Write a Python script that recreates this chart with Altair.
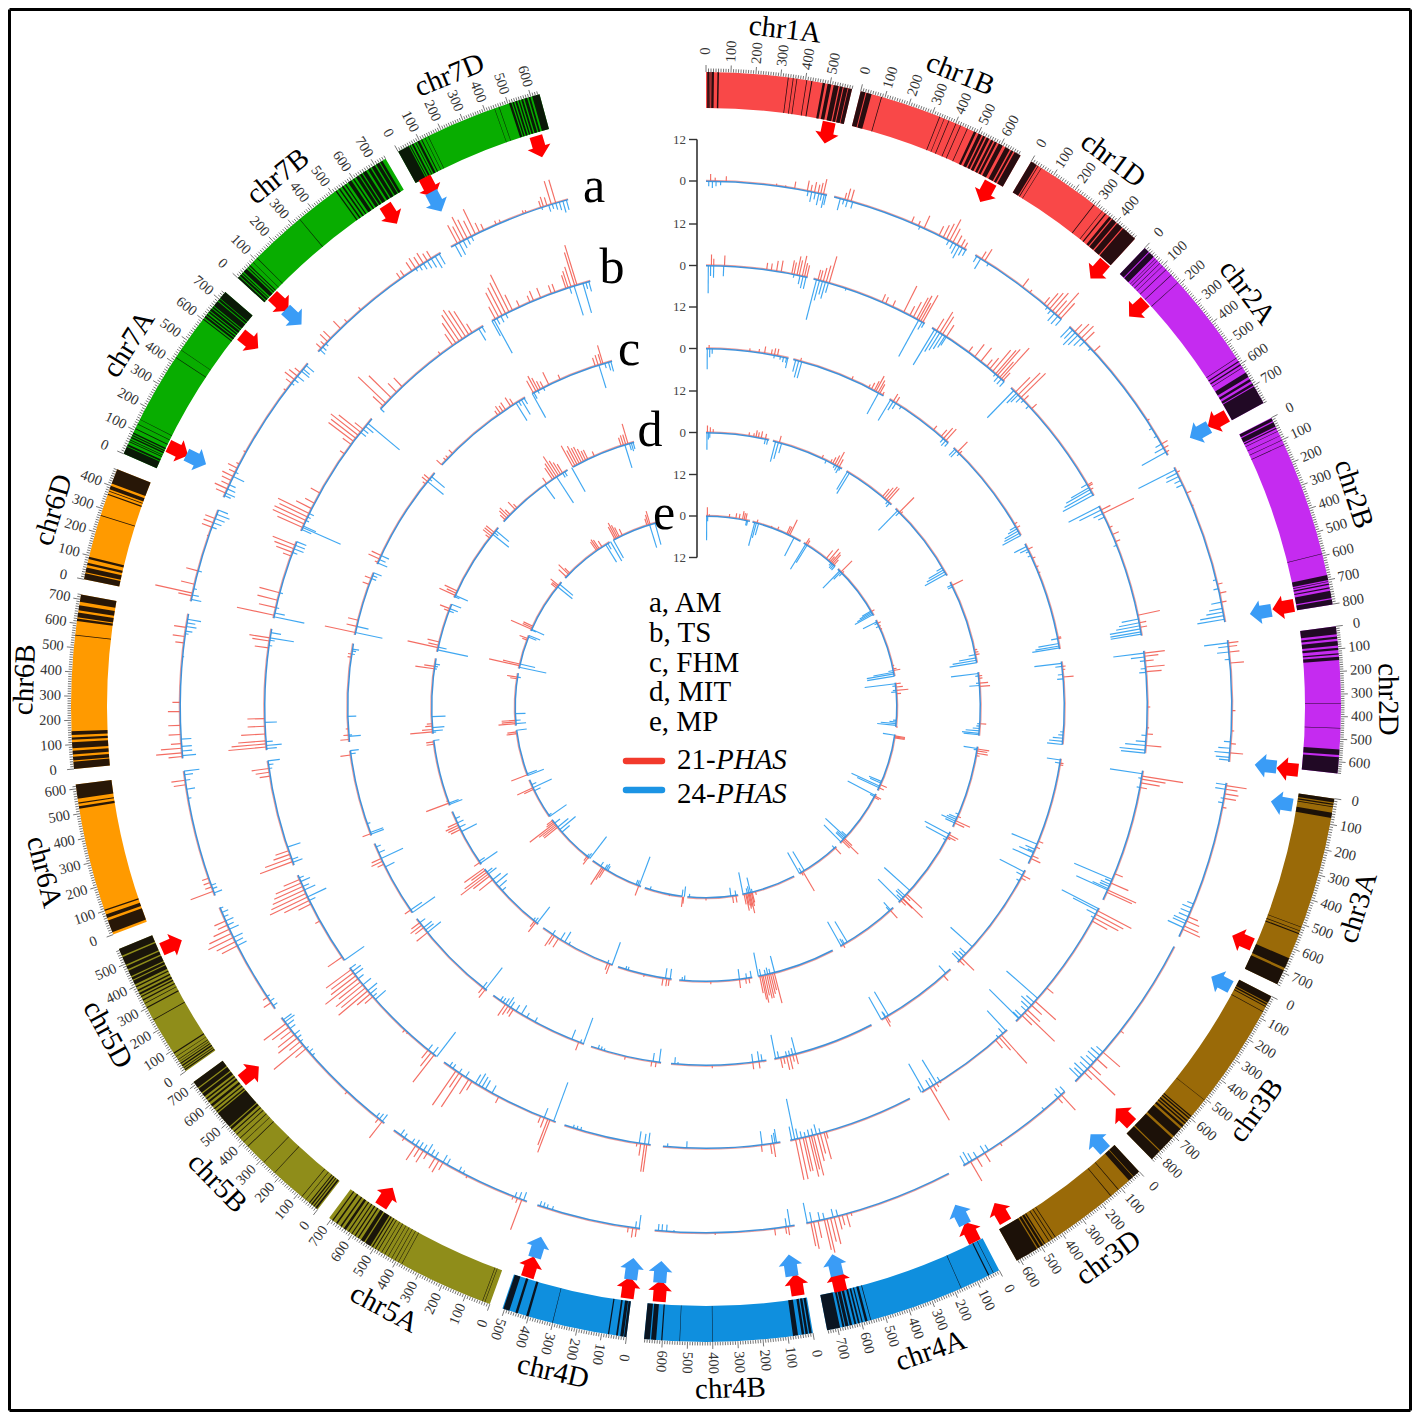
import math
import altair as alt
import pandas as pd

FONT = "Liberation Serif"
CX_PAGE, CY_PAGE = 706, 707
PAGE_W = 1404

# name, first clock angle (deg), last clock angle (deg), length in Mb, colour
CHROMS = [
    ("chr1A", 0.0, 13.3, 590, "#f94848"), ("chr1B", 14.1, 29.7, 689, "#f94848"), ("chr1D", 30.8, 42.5, 495, "#f94848"),
    ("chr2A", 43.7, 61.4, 780, "#c52bf0"), ("chr2B", 62.9, 80.7, 801, "#c52bf0"), ("chr2D", 82.7, 96.0, 651, "#c52bf0"),
    ("chr3A", 98.3, 115.9, 750, "#9a6a08"), ("chr3B", 117.1, 135.4, 830, "#9a6a08"), ("chr3D", 137.0, 150.7, 615, "#9a6a08"),
    ("chr4A", 152.5, 169.0, 744, "#0f8fde"), ("chr4B", 170.3, 185.6, 673, "#0f8fde"), ("chr4D", 187.2, 198.7, 509, "#0f8fde"),
    ("chr5A", 199.9, 216.4, 709, "#8f8d1a"), ("chr5B", 217.7, 233.8, 713, "#8f8d1a"), ("chr5D", 235.0, 247.6, 566, "#8f8d1a"),
    ("chr6A", 249.0, 263.0, 618, "#ff9a00"), ("chr6B", 264.4, 280.2, 720, "#ff9a00"), ("chr6D", 281.6, 292.0, 473, "#ff9a00"),
    ("chr7A", 293.5, 310.8, 736, "#08ad00"), ("chr7B", 312.5, 329.7, 750, "#08ad00"), ("chr7D", 331.0, 344.8, 638, "#08ad00"),
]

# dark gene-density bands (start Mb, end Mb)
BANDS = {
    "chr1A": [(5,12),(14,18),(22,32),(46,52),(329,332),(349,352),(364,367),(404,407),(424,428),(470,480),(490,505),(515,535),(540,552),(556,572),(575,590)],
    "chr1B": [(0,20),(24,45),(85,88),(330,333),(350,352),(370,373),(400,403),(420,423),(450,453),(480,490),(500,514),(520,530),(536,548),(556,566),(572,582),(590,608),(620,640),(646,656),(662,689)],
    "chr1D": [(0,25),(30,33),(45,47),(290,293),(330,332),(345,350),(365,375),(380,400),(405,430),(435,495)],
    "chr2A": [(0,22),(26,50),(60,62),(70,72),(85,87),(100,102),(120,122),(150,152),(190,192),(570,572),(585,590),(600,605),(615,617),(640,660),(670,680),(690,700),(704,780)],
    "chr2B": [(2,15),(20,40),(45,50),(60,62),(80,82),(100,102),(120,122),(590,592),(680,700),(705,708),(715,720),(730,735),(745,775),(780,801)],
    "chr2D": [(0,35),(45,55),(65,85),(95,105),(120,125),(135,150),(340,342),(450,452),(545,570),(580,651)],
    "chr3A": [(0,15),(20,25),(30,33),(55,75),(510,512),(525,528),(536,540),(640,680),(690,750)],
    "chr3B": [(0,30),(34,40),(46,50),(70,73),(505,507),(590,595),(600,606),(614,620),(626,632),(640,650),(660,700),(710,780),(785,830)],
    "chr3D": [(0,30),(33,55),(110,113),(150,153),(430,433),(445,448),(460,463),(480,485),(490,500),(505,515),(520,615)],
    "chr4A": [(25,27),(45,50),(170,172),(560,563),(575,585),(595,600),(608,615),(622,630),(640,650),(655,668),(672,680),(690,744)],
    "chr4B": [(5,15),(20,30),(35,45),(60,80),(400,402),(530,532),(600,605),(625,645),(650,673)],
    "chr4D": [(0,10),(12,25),(35,42),(70,75),(300,302),(400,410),(445,455),(480,505)],
    "chr5A": [(20,22),(30,32),(375,377),(390,392),(405,407),(420,422),(435,437),(450,453),(465,467),(480,483),(492,496),(505,510),(516,540),(545,560),(570,575),(585,590),(600,604),(615,620),(630,640),(650,656),(670,676),(690,695)],
    "chr5B": [(5,12),(18,22),(28,34),(40,44),(60,62),(80,82),(225,227),(285,287),(375,378),(400,402),(420,423),(440,443),(455,460),(470,480),(485,555),(560,566),(575,580),(590,600),(610,618),(626,632),(640,655),(660,680),(685,713)],
    "chr5D": [(5,10),(15,18),(24,30),(36,40),(46,48),(55,58),(70,72),(85,90),(245,248),(300,305),(320,323),(335,340),(350,355),(362,370),(378,384),(395,400),(408,425),(430,440),(445,470),(476,490),(496,530),(536,566)],
    "chr6A": [(10,60),(70,85),(100,105),(520,530),(540,545),(560,618)],
    "chr6B": [(0,30),(35,50),(60,75),(85,110),(120,130),(140,155),(550,553),(610,620),(625,645),(655,675),(690,720)],
    "chr6D": [(0,25),(30,50),(60,70),(85,95),(270,273),(360,365),(375,378),(385,400),(410,473)],
    "chr7A": [(0,30),(33,40),(50,53),(57,60),(66,72),(76,80),(85,90),(105,108),(125,127),(145,147),(420,422),(455,457),(600,604),(610,618),(622,628),(634,640),(644,654),(658,664),(668,690),(694,702),(705,736)],
    "chr7B": [(0,8),(12,20),(24,28),(34,50),(56,60),(66,70),(85,87),(108,110),(335,337),(515,520),(530,536),(545,552),(560,565),(575,590),(598,604),(612,625),(630,640),(645,660),(668,680),(686,700),(706,720),(724,735)],
    "chr7D": [(0,50),(54,58),(64,72),(80,84),(90,100),(108,112),(125,127),(140,142),(440,442),(460,462),(505,515),(520,526),(532,540),(546,552),(558,566),(572,584),(590,598),(606,638)],
}

RING_RADII = {"a": 526, "b": 441.5, "c": 358.5, "d": 274.5, "e": 191}
UNIT_PX = 41.5 / 12

RED_A = [(.5,2),(1,1),(2.2,1.5),(7.7,.6),(8.7,.5),(9.7,2),(11.1,3),(11.5,2),(11.9,3),(12.3,2.5),(12.6,3.2),(12.9,4.5),(15.3,2),(15.6,3.5),(16,3.5),(23,2),(23.8,1.5),(24.5,4),(26.3,3),(26.8,4),(27.2,5),(27.6,7),(28,4.5),(28.5,3),(29,2.5),(29.4,2),(31.6,2.5),(32,4),(37,3),(38,1),(40,2.5),(40.4,5),(40.8,6),(41.2,7),(41.6,5),(42,9),(42.4,6),(44.5,3),(45,4.5),(45.5,5),(46,4),(47.5,2.5),(57,.8),(60,2),(60.5,1.5),(61,1),(63.5,1),(66,1.5),(67.5,.5),(76.5,1.5),(77.5,2),(78.5,1.5),(83,3),(83.4,2.5),(84,3),(85.2,4),(90.4,1),(92.6,.8),(94,1.5),(95,3.8),(98.6,6),(99,3.5),(99.5,4),(100,3.5),(101,1.2),(113.5,3),(114,4),(114.6,4.5),(115,5.5),(128,1.2),(131,6.5),(132,4),(133,4),(133.5,11),(134,3),(137.5,6),(138,2),(146,1),(148,3),(149,3),(149.8,6.5),(164,1),(164.5,4),(165,3),(165.4,4),(165.9,8),(166.3,7),(166.7,10),(167,9),(167.7,5),(168.2,8),(168.5,7),(171,2.5),(171.3,2),(172.5,2),(179,.6),(187.6,2.5),(188,2.8),(188.5,1.5),(200.5,9.3),(201,1.5),(201.5,1),(207,.8),(210,2.5),(210.5,4),(211,3.5),(212,2),(212.5,4),(213,3),(213.5,5),(215,1),(218,6),(218.5,1.5),(223,1),(229.5,4),(230,11),(230.5,4),(231,7),(231.5,6),(232,4),(232.5,6),(233,8),(235.8,2.5),(236.5,1.5),(243,5),(243.5,6),(244,8),(244.5,7),(245,5),(245.5,3),(246,3.5),(249.5,7),(250,2),(250.5,2),(251,2),(261.5,3.5),(262,4),(264.6,4),(265,7.5),(265.5,6),(266,3),(267,3.5),(268,3.5),(269.5,3.5),(270.5,2.2),(277,2.5),(277.7,3.5),(278.7,3.5),(282.5,11),(282.2,4),(283.5,4),(285,3.5),(289,.5),(290,3),(290.5,3),(291,3),(294,3),(294.5,4),(295,2.5),(295.5,3),(296,3.5),(296.5,2),(297,3),(297.5,1),(299,.8),(307,.8),(308,2),(308.5,3.5),(309,3),(309.5,2),(313,2),(313.5,1.5),(314,3),(314.5,3),(316,3),(317,1.2),(319,1),(324.5,2),(325,2),(326,3),(326.5,3.5),(327,3),(327.5,3.5),(328,2.5),(328.5,2.5),(331.8,6),(332.2,5),(332.6,7.5),(333,6),(333.5,5),(334,8),(334.5,3),(335,2),(336.5,1.2),(337,1),(339.7,1),(340,.8),(341.7,2),(342,3),(342.4,2.5),(342.9,7),(343.4,7)]
BLUE_A = [(.3,1.5),(.7,2),(1.1,1.5),(1.6,1.2),(11.2,1.5),(11.6,3),(12,2),(12.4,3.5),(12.7,2),(13,4),(13.2,3),(14.8,3.5),(15.2,1.5),(15.6,2),(16.2,2),(24,1),(27.5,1.5),(28,2),(28.4,3),(28.8,4),(29.2,2.5),(29.6,2),(31,2),(31.5,3.5),(32.5,1),(40.5,1),(41,1.5),(41.5,3),(42,3),(42.5,2.5),(43.8,4),(44.2,3.5),(44.6,5),(45,4),(45.5,3),(46,2),(47,1),(58,1),(59,1),(60,2),(60.5,3),(61,8),(63.2,12),(63.6,3.5),(64,4),(64.5,2),(65,2),(76,1),(77,1.5),(78.5,3),(79.2,4),(79.6,5),(80,7),(80.4,8),(83,7),(83.4,3),(84,3.5),(84.8,1.5),(93.8,2),(94.5,3.5),(95,4.5),(95.5,4),(95.8,3),(98.5,3),(99,3),(100,1),(100.5,1.5),(112,2),(112.5,3),(113,3),(113.5,3),(114,4),(114.3,4),(114.8,5),(131,2.5),(131.5,3.5),(132,3.5),(132.5,3),(133,4),(133.5,3),(134,4),(134.4,3),(134.8,4),(137,2),(137.5,2.5),(138,1.5),(140,1),(147.5,2),(148,2.5),(149,2),(149.6,2.5),(150,3.5),(150.5,3),(165.5,2),(166,2.5),(167,2),(167.5,2.5),(168.4,3),(168.9,6),(170.8,5),(171.2,2.5),(183.5,.6),(184.3,2),(184.8,2),(185.2,2),(187.3,4),(187.7,2),(197,1.2),(197.6,1.2),(198,1.5),(198.4,1.5),(200.3,2.5),(200.8,2),(201.3,1.5),(207.5,1),(208,1.5),(209.5,2),(210,2.5),(211,2),(211.5,2),(212,3),(212.5,2),(213,2),(213.5,2),(214,1.5),(215,1.5),(215.5,2),(218,2.5),(218.4,2),(218.8,1.5),(228.5,1),(229,1.5),(229.5,1),(230.5,1),(231,1.5),(231.5,2),(232.3,2),(232.8,2.5),(233.2,3.5),(233.5,3),(235.4,1.5),(236,1.5),(236.6,1),(243,3),(243.5,2.5),(244,3),(245,3),(245.5,2),(246,2.5),(246.5,1.5),(247,2),(247.5,1),(249.3,2.5),(249.8,1.5),(250.2,1.5),(260,1),(261,2.5),(262,1.5),(262.6,2.5),(263,4.5),(264.7,4),(265.2,3),(265.7,3),(266.5,3),(275.5,.5),(278,1),(278.3,2),(278.8,3),(279.2,2.5),(279.6,4),(281.8,3),(282.3,2),(283,1),(285,1.2),(290,1.5),(290.5,2.5),(291,3),(291.5,4),(292,3),(293.7,2),(294,3),(294.5,2.5),(295,2),(296,3.5),(296.5,1),(308,1),(308.5,1.5),(309,2.5),(309.7,3),(310,2.5),(310.5,3),(312.8,2),(313.2,1.5),(313.7,1),(326.5,1),(327,1.5),(327.5,2),(328,2.5),(328.5,3),(329,4),(329.5,3.5),(331.5,4),(332,4),(332.5,2.5),(333,2),(333.5,1.5),(341.8,.8),(342.6,2),(343,1.5),(343.4,2),(343.8,2.5),(344.2,3.5),(344.6,3)]

RED_B = [(.7,3.2),(1,2),(2.4,3),(7.9,2),(8.5,2),(9.2,3),(9.8,3.3),(11.2,4),(11.5,3.5),(11.9,5.5),(12.2,4.5),(12.6,6),(12.9,4),(13.2,3.5),(14.7,3),(15,3),(15.4,4),(15.8,5),(16.2,8),(23.5,2.5),(24,2),(25,2),(26.6,8.5),(27.5,3),(28,5),(28.5,7),(28.8,8),(29.1,6),(29.4,9),(31.5,4),(32,7),(32.4,6),(33,4),(36.5,2),(37.5,4.5),(38.5,5),(39.5,2.5),(40,4),(40.5,8),(41,9),(41.3,10),(41.7,6),(42,12),(42.3,3),(44.5,6),(45,9),(45.5,10),(46,2),(47.5,2),(59.8,1.5),(60,1.5),(60.5,1),(63.5,3),(64,10),(66,1),(67,2),(68,1.5),(78,6.5),(79,2),(79.6,2),(83,6),(83.4,4),(84,2.5),(84.8,5.5),(85.4,4.5),(90,.8),(92.7,.6),(93.5,1.8),(95,4.5),(99,12),(99.4,7),(99.9,5.5),(100.5,2),(112.2,2.5),(113.5,5.5),(114.5,9),(114.8,8),(117.5,11),(118,9),(118.5,8),(119,5),(129.5,2.5),(131.8,8),(132.5,4),(133.3,5),(133.8,12),(134.3,4),(138,11),(138.4,5),(139,3),(148,.6),(148.5,1.2),(149,2),(149.5,11),(164.2,2),(164.5,8),(165,6),(165.4,8),(165.9,12),(166.2,10),(166.5,12),(167,10),(167.3,10),(167.8,12),(168.3,12),(171.2,4),(171.6,3),(172.8,2),(187.7,8),(188,8),(188.5,3.5),(189,1),(200.7,10),(201,8),(201.5,3),(202,2),(208,2),(212,3),(212.5,5),(213.5,11),(214,5),(214.5,12),(218,10),(218.5,5),(219,3),(222.5,.5),(223,1),(229,3),(229.5,5),(230,11),(230.5,9),(231,10),(231.5,8),(232,12),(232.5,9),(233,8),(233.5,9),(235.5,5),(241,1.5),(243.5,4),(244,8),(244.5,12),(245,11),(245.5,10),(246,9),(246.5,8),(247,5),(249.5,10),(250,8),(250.5,5),(251,4),(261,3),(261.5,4),(262,5),(264.8,11),(265.2,10),(265.6,8),(266.5,7),(267.5,5),(268.5,5),(277.7,4),(278.6,5),(279,6),(282,11),(283,5),(284,6),(285,6),(290,2.5),(290.5,5),(291,6),(291.5,7),(294,8),(294.5,10),(295,10),(295.5,9),(296,10),(296.7,5),(297.5,3),(299,3),(305,1.5),(306.5,3),(307,9),(307.5,9),(308,10),(308.5,8),(309,3),(313,4),(313.5,11),(314.5,9),(315.5,3.5),(316.5,3.5),(323,1),(325,4),(325.5,7),(326,9),(326.5,10),(327,9),(327.5,8),(328,3),(331.5,4),(332,8),(332.5,9),(333,10),(333.5,12),(334,5),(335,2),(336.5,2),(337,3),(338,3),(339.5,2.5),(340,2.5),(341.5,4),(341.8,5),(342.2,6),(342.7,10),(343,12)]
BLUE_B = [(.3,8),(.6,3),(1,3.5),(2.3,3),(11.5,1),(12.3,2.5),(12.7,3.5),(13.1,3.5),(14.5,12),(14.9,6),(15.3,4),(15.7,5),(16.1,3),(18.5,.7),(28.8,12),(29.3,2.5),(29.6,1.5),(31.2,12),(31.6,7),(32,6),(32.4,5),(32.8,4),(33,3),(41,1),(41.5,2),(42,2),(42.5,2),(44.2,11),(44.7,4),(45,3),(45.5,2),(46,1),(47,1.2),(59.7,2),(60.2,6),(60.5,8),(60.9,9),(61.3,10),(63,10),(63.5,7),(64,3),(64.5,2),(68.5,1),(78.5,5),(79,6),(79.4,7),(79.8,9),(80.2,9),(80.5,9),(83,9),(83.5,4),(84,1.5),(85,1.5),(85.5,2),(93.7,1.5),(94.5,3),(95,6),(95.6,7.5),(96,7),(98.7,9.5),(99.3,1),(100.5,1),(113,12),(113.3,2),(113.7,3),(114,3),(114.3,5),(114.5,10),(117.2,12),(117.5,8),(118,3),(118.5,1),(131.3,12),(132,3),(132.5,4),(133,3),(133.5,2),(134.4,2.5),(134.8,2.5),(134.9,12),(137.2,8),(137.7,2),(138.5,1),(148,1.5),(148.5,8),(149,2.5),(149.5,2.5),(150.4,9),(150.8,2),(165,1.5),(165.5,3),(166,2),(166.5,2),(167,1.5),(167.5,2),(168,3),(168.4,12),(168.8,4),(170.8,4),(171,3),(171.3,2.5),(172.7,4),(182.5,2),(185,1),(187.5,3.5),(188,3),(188.7,3.5),(196.5,1),(197,1),(197.5,1),(200.2,12),(201.5,3),(209,2.5),(210,3),(210.5,3.5),(211,4),(211.5,3),(213,2),(214,1.5),(215,1.5),(215.5,1.5),(217.6,9),(218.2,2.5),(219,2),(228.5,4),(229,1.5),(229.5,2.5),(230,3.5),(231,3),(232,2),(232.7,3),(233.2,3),(233.7,2),(235,7),(244,2),(244.5,6),(245.5,3.5),(246,2),(246.7,3),(247.2,1.5),(249.4,3),(249.8,2),(251.5,4),(262,1),(262.5,1.5),(263,3.5),(264.6,3),(265,4.5),(265.5,2),(268,3.5),(278,1),(278.7,1.5),(279,7),(279.7,3),(281.8,9),(282.3,3),(283,1),(285,1),(290.5,1.5),(291,3),(291.5,3),(292,3),(293.7,3),(294,12),(294.2,4),(295,1),(295.5,1),(296,1.5),(308.5,2),(309,2),(309.5,3),(310,12),(312.5,1.5),(329,4),(329.5,2),(331,5),(331.3,11),(331.7,2),(332.3,2),(333,1.5),(342,2),(342.6,9),(343.8,9),(344.2,2),(344.6,3)]

RED_C = [(.5,1),(7,.8),(8.5,1),(9.4,2),(10.5,1.5),(11,2),(11.5,2),(15.3,1),(24,1),(27,1),(27.5,2),(28,3),(28.3,5),(28.7,4),(29,3),(29.5,1),(31.5,2.5),(32,2),(39.4,1.5),(41,2.5),(41.5,4),(42,4.5),(44.6,4),(45,1),(59.3,1),(60,1.2),(63.9,1.5),(65.5,1),(67,.8),(68,.6),(78.8,1),(79,1),(83.5,1),(84,.8),(85.2,3),(99,1),(99.3,1),(112,1.5),(113,1.2),(114.5,2),(115,3),(118,2.5),(118.5,1.5),(134.5,5),(135,2),(138.5,2),(149.7,2),(150,3),(165.5,3),(166,2),(166.5,4),(167,4),(167.5,2),(168,3),(171.5,2),(172.5,2),(179,.8),(188,1.5),(188.7,1.5),(193,1),(200.8,2.5),(212.5,2.5),(213,2),(213.5,3),(214,4),(218,3),(218.5,2),(231,4),(232,3),(232.5,4),(233,3),(235.5,2),(244,2),(244.5,3.5),(245,3),(249.3,2.5),(262.3,3),(264.8,2.5),(265.5,1.5),(266.5,.7),(278,1),(278.5,1),(282,9),(283,3),(284,3),(290,2),(291,2),(293.8,1),(294.4,3.5),(295,3),(308.5,1),(309,2),(309.5,2),(312.5,2),(313.5,1),(314,1),(315,1.5),(324.5,1.5),(325,2.5),(325.5,2),(326,2.5),(327,3),(327.5,2),(331.2,4),(331.7,5),(332.1,4),(332.5,2.5),(333,2),(334,4),(336,1.5),(342,2.5),(342.5,3),(343,3),(343.3,5.5)]
BLUE_C = [(.2,6),(.6,2.5),(1,1.5),(11,1),(12,1),(12.5,1.5),(13,1.5),(13.2,3),(14.5,3.5),(15,5),(15.5,5),(28.8,7),(31,7),(31.5,3),(32,2),(33,1),(41.5,1.5),(42,2),(42.5,1.5),(44,2.5),(44.4,2.5),(45,1),(59.8,2),(60.2,3),(60.6,4.5),(61,5),(61.4,6),(63.4,4),(63.9,2.5),(64.3,1),(65,1),(79,2),(79.8,6),(80.2,7),(80.5,8),(83,8),(83.5,2),(84.8,1.5),(85.5,1.8),(94,1),(94.5,1.5),(95,3),(95.5,4),(96,4.5),(98.5,4),(99,1.5),(112.5,8),(113.4,3),(113.8,2),(114,4.5),(114.8,6),(117.4,8),(118,2),(119,1),(132,8.5),(133.5,2.5),(134,2),(134.5,3),(135,3),(138,3),(149.4,8),(149.9,1.5),(150,2),(150.7,7.5),(165.5,5),(166,2),(166.5,1.5),(167,1.5),(168.3,2),(168.8,7),(171,2),(171.5,3),(172.5,2.5),(184.5,.7),(185,2),(187.5,4),(188.5,2.5),(196.5,.7),(197,1),(197.5,1.2),(200,8),(200.5,1),(202,3),(208.5,1.5),(210,1.5),(211,3),(212,2),(213,2),(213.5,3),(214,2),(214.5,1.5),(215,1.5),(218,8),(218.5,2),(231,5),(231.5,3),(232,3),(233,2),(235,8),(235.5,4),(243.5,3),(245,7),(246,2),(247,1.5),(249.2,4),(249.5,4),(251,1),(262.5,1.5),(263,2.5),(265.3,3.5),(265.5,1),(268.5,2.5),(278.5,1),(279,1.2),(279.3,2),(282,8),(283,3.5),(291,1.5),(291.5,1.5),(292,2.5),(293.7,3),(294.3,2),(295,2.5),(309,6),(309.5,1),(310,5),(328,6),(328.5,1.5),(329,5),(329.5,2),(331,8),(331.3,2),(332,1),(333,1),(342.6,7),(343.6,1.5),(344.2,2.5),(344.6,3)]

RED_D = [(.3,2),(.9,1.5),(1.5,1),(9,1),(10,1),(10.5,2),(11,1.5),(11.6,2),(12.5,1.5),(15.5,2),(25,1),(27,1),(27.5,2),(28,3),(28.5,4.5),(29,2.5),(40,3),(40.5,4),(41,5),(41.5,5),(44.8,6),(45.2,.8),(63.7,3.5),(78,.8),(78.5,1),(79,1.2),(83.5,1),(84,1),(85,2.5),(85.7,3),(93.5,1.8),(98.8,3.5),(99.2,3),(99.7,3.3),(100.2,1),(113.5,1),(114.5,4.5),(115,3),(117.7,3),(118.2,2.5),(118.5,1),(133,6),(133.5,2),(134.2,8),(134.3,4),(134.8,2),(137.8,3),(150,1),(165.6,9),(166,5),(166.4,6),(166.8,7),(167.2,7),(167.6,6),(168,8),(168.3,7),(168.7,5),(171,1.5),(171.7,1.5),(173,2.5),(179,.8),(187.7,2),(188.2,2.2),(189,2.2),(193,.7),(200.5,3),(201,2),(212.5,3),(213.5,3),(214,4),(218.3,3.5),(218.7,2),(231,5),(232,6),(232.5,10),(233,8),(233.5,5),(234,7),(235.5,2),(243.5,3),(244,3.5),(244.5,4),(245,3),(249.5,7),(250,.5),(262.2,2.2),(262.7,2.2),(264.8,6.5),(265.3,3),(266,2),(266.5,1.5),(278,5.5),(278.5,3),(282.5,9),(283,3),(283.7,3.5),(290.5,1.5),(291,3),(294,5),(294.5,3),(295,4),(308,1.5),(308.5,3),(309,3),(309.5,3),(313,2),(313.5,3),(314,3.5),(314.5,2),(316,3),(316.5,1.5),(324.5,2),(326,4),(326.5,5),(327,7),(327.5,5),(328,4),(328.5,3),(331,7),(331.5,5),(332,6),(332.5,5),(333,5),(333.5,4),(334,3),(334.5,3),(336,1.5),(342,2.5),(342.5,3),(343,3),(343.5,6)]
BLUE_D = [(.2,5),(.5,2),(.8,1.5),(12.5,1.5),(13,1.5),(14.7,6),(15.3,5),(16,3),(26,1),(28,1),(28.5,1.5),(29,2),(29.3,1),(31,6),(31.5,7),(41.5,1),(42,1.5),(44.3,8),(44.8,1.5),(59.5,2),(60,5),(60.5,6),(61,7),(63.6,1.5),(64,1.5),(79,2),(79.7,5),(80.2,7),(80.7,8),(83,8),(83.5,1),(85,1),(85.5,3),(93.5,.8),(94,1),(94.5,2),(95,4),(95.5,5),(95.8,4.5),(98.7,4),(99,1),(113,1),(113.8,2.5),(114.2,3),(114.6,4.5),(115,3),(117.6,8),(118.5,7),(119,1),(132,10),(133.5,3),(134,3),(134.5,2),(135,9),(137.7,3),(138,1.5),(149,7),(149.7,1.5),(150,2),(150.5,8),(165.5,5),(166.5,1.5),(167,2),(167.5,1.5),(168.5,2),(169,7),(170.5,2),(171.5,1.5),(173,3),(184.5,1.5),(185,1),(187.5,3),(188.5,3),(196.5,1),(197,1),(200,7),(201,1),(210,1),(211,3.5),(212,2.5),(214,1.5),(218,6),(218.5,1.5),(219,1),(228,1.5),(229,3),(230,4.5),(231,3),(232.5,3),(233,2),(235.3,6),(235.8,2),(243,5),(244,2),(245,2),(246,1.5),(249.2,4),(249.5,3),(263,1.7),(264.7,1),(265,3),(265.7,3.5),(268,4),(278,.8),(278.5,1),(279,1.5),(282,9),(282.6,2.5),(290.5,1.5),(291,2.5),(292,3),(293.7,1.5),(294,4),(309,6),(309.5,1.5),(310,5),(324,5),(327,9),(328.5,1.5),(329,1.5),(330.7,8),(342.8,7),(343.8,2),(344.2,2.5),(344.6,2)]

RED_E = [(.4,2.5),(1,.5),(7,1),(9,1.5),(10,1.5),(11,2.5),(11.5,2),(12,2),(15.5,1),(20,.5),(22,1),(25,2.5),(25.5,2.5),(26,5),(32,1.5),(31.5,2),(39,3),(40,4.5),(40.5,2),(41,4),(41.5,3.5),(42,2),(45,4.5),(45.5,.7),(60,1),(64,1),(65,.5),(66,.5),(77.5,.5),(78.5,1),(79,2),(83,1.5),(84,2),(85,3.5),(86,1.3),(96,.5),(98.7,3),(99,3),(99.3,3),(114,2),(115,1.5),(117.8,2),(118.2,1.5),(133.5,3),(134,6),(134.5,3),(137.5,2.5),(149.5,6.5),(150,1),(165,1),(166,3),(166.3,4),(166.7,6),(167,4),(167.3,4.5),(167.7,3.5),(168,5),(168.5,3),(171,2),(172,2),(180,.7),(186.7,2),(187,3),(191,.5),(200.6,3),(212,3),(212.5,4),(213,6),(218,2.5),(218.5,1.5),(231,5),(231.5,5),(232,6),(232.5,9),(233,2.5),(233.5,2),(244.5,3),(245,5),(249.2,5),(262,3),(262.5,2.7),(265,5),(265.5,4),(266,4),(278.5,2),(279,3),(282.5,9),(283,5),(290.5,1.5),(291,2.5),(294,6.5),(294.5,3),(295,3),(308.5,2),(309,2),(309.5,3),(313,3),(314,4),(314.5,2),(325,3),(325.5,3.5),(326,3),(327,2),(331.5,4),(332,5),(332.5,4),(333,3),(334,2),(342,2),(342.5,3),(343,4)]
BLUE_E = [(.2,7),(.5,1.5),(12.3,1.5),(12.6,1.5),(14.8,7),(15.3,4.5),(16,3.5),(27.5,6),(31.5,8.5),(32,6),(41,1),(41.5,1.5),(42,1.5),(42.5,1.5),(44.5,7),(45,3),(45.5,1.2),(59.8,3),(60.2,4),(60.6,5),(61,6),(63.5,4.5),(64,1),(65,1),(79,1.5),(79.5,6),(80,8),(80.7,8),(83,9),(83.7,1),(85,1),(85.5,1.5),(94,1),(94.5,2),(95,4.5),(95.5,5.5),(98.5,3.5),(113,4),(113.5,3.5),(114.5,9),(115,7),(117.6,9),(118,1.5),(132.5,2),(133,8),(133.5,3),(134,3),(135,7),(137.7,1),(149,6.5),(150,1.5),(150.7,7),(166,1),(166.5,4.5),(167,2),(167.5,1.5),(168.8,6.5),(171,1.5),(172.5,2.5),(185,1),(186.5,3),(187.2,2),(197,1),(200.5,9),(201,1.5),(201.5,1.5),(211,1.5),(211.5,2),(212,1.5),(213.5,1.5),(217.5,8),(218,1.5),(218.5,1),(229,3),(230,6),(231,4),(232.5,2),(235,6),(235.5,1),(244,2),(245,6),(246,1.5),(249,5),(249.5,3),(263,3),(265,3),(266,1.5),(268,3),(279,1),(282,8),(283,4.5),(291.5,2.5),(292,3.5),(293.8,1.5),(294,4),(309,5.5),(310,5),(328.3,6),(329,2),(330,6.5),(331,6),(342.8,7),(344.5,6.5)]

SPIKES = {"a": (RED_A, BLUE_A), "b": (RED_B, BLUE_B), "c": (RED_C, BLUE_C), "d": (RED_D, BLUE_D), "e": (RED_E, BLUE_E)}

# arrows: clock angle, radius, colour key
ARROWS = [(11.9,587,"r"),(28.5,586,"r"),(41.9,587,"r"),(47.3,587,"r"),(60.8,586,"r"),(60.9,565,"b"),(80.2,586,"r"),(80.3,563,"b"),
          (96.1,585,"r"),(96,563,"b"),(99.5,584,"b"),(113.5,585,"r"),(118.1,584,"b"),(134.4,585,"r"),(138,586,"b"),(149.8,585,"r"),
          (153.3,588,"r"),(153.4,568,"b"),(167,589,"r"),(167,573,"b"),(171.1,585,"r"),(171.4,565,"b"),(184.5,586,"r"),(184.6,567,"b"),
          (187.6,586,"r"),(187.5,567,"b"),(197.4,587,"r"),(197.3,566,"b"),(213.1,585,"r"),(231.2,585,"r"),(246,585,"r"),(295.9,587,"r"),
          (295.9,567,"b"),(308.7,585,"r"),(313.5,587,"r"),(313.4,568,"b"),(327.4,585,"r"),(332,589,"r"),(331.9,573,"b"),(343.4,585,"r")]
ARROW_COLOR = {"r": "#ff0000", "b": "#3a9cf6"}
ARROW_PATH = "M-0.55,-0.9 L0.55,-0.9 L0.55,0.05 L1,0.05 L0,0.95 L-1,0.05 L-0.55,0.05 Z"

LEGEND_LINES = ["a, AM", "b, TS", "c, FHM", "d, MIT", "e, MP"]
RING_LETTERS = [("a", 594, 187), ("b", 612, 268), ("c", 629, 350), ("d", 650, 431), ("e", 664, 514)]

R_IN, R_OUT = 599, 635


def px(page_x):
    return page_x - CX_PAGE


def py(page_y):
    return CY_PAGE - page_y


def polar(theta, r):
    t = math.radians(theta)
    return r * math.sin(t), r * math.cos(t)


xs = alt.Scale(domain=[8 - CX_PAGE, 8 + PAGE_W - CX_PAGE], range=[0, PAGE_W], nice=False, zero=False)
ys = alt.Scale(domain=[CY_PAGE - 8 - PAGE_W, CY_PAGE - 8], range=[PAGE_W, 0], nice=False, zero=False)
X = alt.X("x:Q", scale=xs, axis=None)
Y = alt.Y("y:Q", scale=ys, axis=None)
CENTER = dict(x=alt.value(CX_PAGE - 8), y=alt.value(CY_PAGE - 8))


def arcs(df):
    return alt.Chart(df).mark_arc(stroke=None).encode(
        theta=alt.Theta("t0:Q", scale=None), theta2="t1:Q",
        radius=alt.Radius("r0:Q", scale=None), radius2="r1:Q",
        color=alt.Color("c:N", scale=None),
        opacity=alt.Opacity("o:Q", scale=None),
        **CENTER)


def rules(df, width=1.0):
    return alt.Chart(df).mark_rule(strokeWidth=width).encode(
        x=X, y=Y, x2="x2:Q", y2="y2:Q",
        color=alt.Color("c:N", scale=None),
        opacity=alt.Opacity("o:Q", scale=None))


sector_rows, band_rows, tick_rows, label_rows, name_rows, base_rows = [], [], [], [], [], []
for name, start, end, size, col in CHROMS:
    per_mb = (end - start) / size
    sector_rows.append(dict(t0=math.radians(start), t1=math.radians(end), r0=R_IN, r1=R_OUT, c=col, o=1))
    for a, b in BANDS[name]:
        band_rows.append(dict(t0=math.radians(start + a * per_mb), t1=math.radians(start + b * per_mb), r0=R_IN, r1=R_OUT, c="#0a0508", o=0.88))
    for mb in range(0, size + 1, 10):
        th = start + mb * per_mb
        major = mb % 100 == 0
        x0, y0 = polar(th, R_OUT)
        x1, y1 = polar(th, R_OUT + (7 if major else 3.5))
        tick_rows.append(dict(x=x0, y=y0, x2=x1, y2=y1, c="#777777", o=1))
        if major:
            lx, ly = polar(th, 656)
            ang = (th - 90 if th < 199 else th - 270) % 360
            label_rows.append(dict(x=lx, y=ly, t=str(mb), ang=ang))
    mid = (start + end) / 2
    nx, ny = polar(mid, 682)
    nang = mid % 360 if (mid < 90 or mid > 270) else (mid - 180) % 360
    name_rows.append(dict(x=nx, y=ny, t=name, ang=nang))
    for r in RING_RADII.values():
        base_rows.append(dict(t0=math.radians(start), t1=math.radians(end), r0=r, r1=r + 1.3, c="#f0706a", o=0.7))
        base_rows.append(dict(t0=math.radians(start), t1=math.radians(end), r0=r - 1.0, r1=r + 0.5, c="#3f92da", o=1))

spike_rows = []
for key, (red, blue) in SPIKES.items():
    r = RING_RADII[key]
    for th, v in red:
        x0, y0 = polar(th, r)
        x1, y1 = polar(th, r + v * UNIT_PX)
        spike_rows.append(dict(x=x0, y=y0, x2=x1, y2=y1, c="#f0483c", o=0.8))
spike_blue = []
for key, (red, blue) in SPIKES.items():
    r = RING_RADII[key]
    for th, v in blue:
        x0, y0 = polar(th, r)
        x1, y1 = polar(th, r - v * UNIT_PX)
        spike_blue.append(dict(x=x0, y=y0, x2=x1, y2=y1, c="#2a9df0", o=0.9))

arrow_rows = []
for th, r, k in ARROWS:
    ax, ay = polar(th, r)
    arrow_rows.append(dict(x=ax, y=ay, ang=th % 360, c=ARROW_COLOR[k]))


def text_layer(rows, size, color="#000000", style="normal", align="center"):
    return alt.Chart(pd.DataFrame(rows)).mark_text(
        font=FONT, fontSize=size, color=color, fontStyle=style, align=align, baseline="middle"
    ).encode(x=X, y=Y, text="t:N", angle=alt.Angle("ang:Q", scale=None))


# radial value axis to the left of the gap
axis_x = px(697)
ax_vals = []
for key, r in RING_RADII.items():
    ax_vals += [(r, "0"), (r + 12 * UNIT_PX, "12")]
ax_vals.append((RING_RADII["e"] - 12 * UNIT_PX, "12"))
ax_ticks = [dict(x=axis_x, y=r, x2=px(689), y2=r, c="#333333", o=1) for r, _ in ax_vals]
ax_labels = [dict(x=px(686), y=r, t=t, ang=0) for r, t in ax_vals]
ax_line = [dict(x=axis_x, y=max(r for r, _ in ax_vals), x2=axis_x, y2=min(r for r, _ in ax_vals), c="#333333", o=1)]

legend_text = [dict(x=px(649), y=py(603 + 29.8 * i), t=s, ang=0) for i, s in enumerate(LEGEND_LINES)]
legend_num = [dict(x=px(677), y=py(760), t="21-", ang=0), dict(x=px(677), y=py(794), t="24-", ang=0)]
legend_ital = [dict(x=px(716), y=py(760), t="PHAS", ang=0), dict(x=px(716), y=py(794), t="PHAS", ang=0)]
legend_lines = [dict(x=px(626), y=py(761), x2=px(662), y2=py(761), c="#f23a2c", o=1),
                dict(x=px(626), y=py(790), x2=px(662), y2=py(790), c="#1c94e4", o=1)]
letters = [dict(x=px(x), y=py(y), t=t, ang=0) for t, x, y in RING_LETTERS]

lo, hi = 9.5, 1410.5
frame = [dict(x=px(lo), y=py(lo), x2=px(hi), y2=py(lo), c="#000000", o=1),
         dict(x=px(lo), y=py(hi), x2=px(hi), y2=py(hi), c="#000000", o=1),
         dict(x=px(lo), y=py(lo), x2=px(lo), y2=py(hi), c="#000000", o=1),
         dict(x=px(hi), y=py(lo), x2=px(hi), y2=py(hi), c="#000000", o=1)]

layers = [
    rules(pd.DataFrame(frame), 3),
    arcs(pd.DataFrame(sector_rows)),
    arcs(pd.DataFrame(band_rows)),
    rules(pd.DataFrame(tick_rows), 1),
    rules(pd.DataFrame(spike_rows), 1.15),
    rules(pd.DataFrame(spike_blue), 1.15),
    arcs(pd.DataFrame(base_rows)),
    alt.Chart(pd.DataFrame(arrow_rows)).mark_point(shape=ARROW_PATH, filled=True, size=560, opacity=1).encode(
        x=X, y=Y, color=alt.Color("c:N", scale=None), angle=alt.Angle("ang:Q", scale=None)),
    rules(pd.DataFrame(ax_ticks), 1.4),
    rules(pd.DataFrame(ax_line), 1.6),
    text_layer(ax_labels, 13, "#444444", align="right"),
    text_layer(label_rows, 14.5, "#333333"),
    text_layer(name_rows, 29),
    text_layer(letters, 50),
    text_layer(legend_text, 29, align="left"),
    text_layer(legend_num, 29, align="left"),
    text_layer(legend_ital, 29, style="italic", align="left"),
    alt.Chart(pd.DataFrame(legend_lines)).mark_rule(strokeWidth=6.5, strokeCap="round").encode(
        x=X, y=Y, x2="x2:Q", y2="y2:Q", color=alt.Color("c:N", scale=None)),
]

chart = alt.layer(*layers).properties(
    width=PAGE_W, height=PAGE_W, padding=0,
    autosize=alt.AutoSizeParams(type="none"),
).configure_view(stroke=None)

chart.save("out.html", embed_options={"renderer": "svg", "actions": False})
